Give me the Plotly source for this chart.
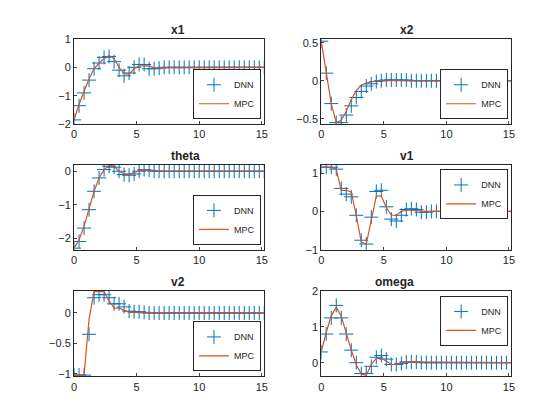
import plotly.graph_objects as go

dt = 0.4
t = [round(i * dt, 1) for i in range(39)]

def pad(v):
    return v + [0.0] * (len(t) - len(v))

x1_dnn = pad([-1.85, -1.35, -0.9, -0.45, -0.05, 0.15, 0.35, 0.38, 0.2, -0.1, -0.3, -0.2, 0.0, 0.1, 0.1, -0.05, -0.05, -0.03])
x1_mpc = pad([-1.85, -1.3, -0.85, -0.4, -0.05, 0.15, 0.3, 0.42, 0.3, 0.0, -0.22, -0.25, -0.05, 0.05, 0.05, 0.05, -0.02, -0.02])
x2_dnn = pad([0.52, 0.1, -0.3, -0.55, -0.55, -0.45, -0.33, -0.22, -0.14, -0.07, -0.04, -0.01, 0.0, 0.01, 0.01, 0.01, 0.01, 0.01])
x2_mpc = pad([0.52, 0.1, -0.3, -0.55, -0.52, -0.4, -0.25, -0.13, -0.06, -0.03, -0.01])
th_dnn = pad([-2.3, -2.1, -1.7, -1.15, -0.6, -0.2, 0.05, 0.15, 0.12, 0.0, -0.1, -0.12, -0.08, 0.0, 0.05, 0.03])
th_mpc = pad([-2.3, -2.05, -1.65, -1.1, -0.6, -0.2, 0.05, 0.18, 0.15, 0.0, -0.07, -0.1, -0.05, 0.02, 0.04, 0.03])
v1_dnn = pad([1.15, 1.15, 1.15, 1.1, 0.6, 0.45, 0.38, -0.1, -0.75, -0.85, -0.15, 0.52, 0.55, 0.12, -0.2, -0.25, -0.1, 0.05, 0.07, 0.05, -0.02, -0.02])
v1_mpc = pad([1.15, 1.15, 1.15, 1.1, 0.55, 0.55, 0.5, -0.1, -0.8, -0.85, -0.2, 0.4, 0.4, 0.1, -0.1, -0.1, 0.0, 0.03, 0.03, 0.02])
v2_dnn = pad([-1.02, -1.02, -1.02, -0.35, 0.25, 0.3, 0.3, 0.25, 0.15, 0.15, 0.1, 0.03, 0.02, 0.02, 0.01])
v2_mpc = pad([-1.02, -1.02, -1.02, -0.1, 0.35, 0.35, 0.35, 0.2, 0.08, 0.08, 0.05, 0.01, 0.01])
om_dnn = pad([0.3, 0.8, 1.25, 1.6, 1.25, 0.8, 0.35, 0.0, -0.3, -0.3, -0.1, 0.15, 0.2, 0.1, -0.05, -0.05, -0.02, 0.02, 0.02, 0.02])
om_mpc = pad([0.3, 0.85, 1.3, 1.55, 1.3, 0.8, 0.35, -0.05, -0.32, -0.35, -0.05, 0.12, 0.12, 0.05, -0.05, -0.05, 0.0, 0.02, 0.02])

panels = [
    ("x1", x1_dnn, x1_mpc, [-2, 1], [-2, -1, 0, 1], "bottom"),
    ("x2", x2_dnn, x2_mpc, [-0.57, 0.55], [-0.5, 0, 0.5], "bottom"),
    ("theta", th_dnn, th_mpc, [-2.35, 0.2], [-2, -1, 0], "bottom"),
    ("v1", v1_dnn, v1_mpc, [-1, 1.22], [-1, 0, 1], "top"),
    ("v2", v2_dnn, v2_mpc, [-1.04, 0.36], [-1, -0.5, 0], "bottom"),
    ("omega", om_dnn, om_mpc, [-0.38, 2], [0, 1, 2], "top"),
]

xdoms = [[0.114, 0.458], [0.561, 0.905]]
ydoms = [[0.730, 0.939], [0.422, 0.631], [0.112, 0.321]]

fig = go.Figure()
layout = {}
for i, (name, dnn, mpc, yr, yt, lpos) in enumerate(panels):
    n = i + 1
    sfx = "" if n == 1 else str(n)
    leg = "legend" if n == 1 else "legend" + str(n)
    xd = xdoms[i % 2]
    yd = ydoms[i // 2]
    fig.add_trace(go.Scatter(x=t, y=dnn, mode="markers", name="DNN",
                             marker=dict(symbol="cross-thin", size=10, line=dict(width=1, color="#0072BD")),
                             xaxis="x" + sfx, yaxis="y" + sfx, legend=leg))
    fig.add_trace(go.Scatter(x=t, y=mpc, mode="lines", name="MPC",
                             line=dict(color="#D95319", width=1.2),
                             xaxis="x" + sfx, yaxis="y" + sfx, legend=leg))
    ax = dict(showline=True, linecolor="#262626", mirror=True, ticks="inside", ticklen=3,
              showgrid=False, zeroline=False, tickfont=dict(size=11, color="#262626"))
    layout["xaxis" + sfx] = dict(ax, domain=xd, range=[0, 15.2], tickvals=[0, 5, 10, 15],
                                 anchor="y" + sfx)
    layout["yaxis" + sfx] = dict(ax, domain=yd, range=yr, tickvals=yt, anchor="x" + sfx)
    ly = yd[0] + 0.012 if lpos == "bottom" else yd[1] - 0.012
    layout[leg] = dict(x=xd[1] - 0.006, y=ly, xanchor="right",
                       yanchor="bottom" if lpos == "bottom" else "top",
                       bordercolor="#262626", borderwidth=1, bgcolor="white",
                       font=dict(size=9, color="#262626"), tracegroupgap=0,
                       itemwidth=30)
    fig.add_annotation(text="<b>" + name + "</b>", x=(xd[0] + xd[1]) / 2, y=yd[1],
                       xref="paper", yref="paper", yanchor="bottom", showarrow=False,
                       font=dict(size=12, color="#262626"))

fig.update_layout(**layout)
fig.update_layout(width=560, height=420, margin=dict(l=0, r=0, t=0, b=0),
                  paper_bgcolor="white", plot_bgcolor="white",
                  font=dict(family="Liberation Sans, Arial"), showlegend=True)

fig.write_html("out.html")
